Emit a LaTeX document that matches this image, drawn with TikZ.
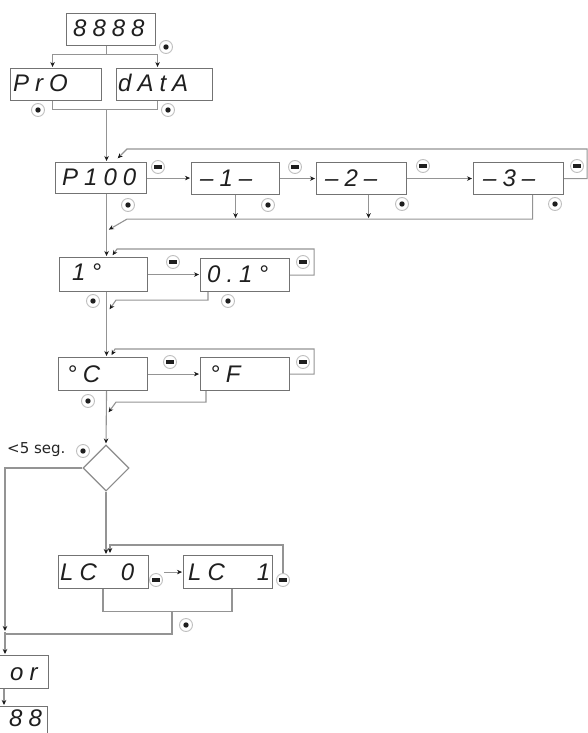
\documentclass[tikz,border=0pt]{standalone}
\usepackage{fontspec}
\usetikzlibrary{arrows.meta,calc,shapes.geometric}
\newfontfamily\segfont{Liberation Sans}[LetterSpace=25]
\newfontfamily\labfont{DejaVu Sans}
\begin{document}
\begin{tikzpicture}[x=1pt,y=-1pt,
  box/.style={draw=black!55, line width=1.1pt, anchor=north west, inner sep=0pt},
  ln/.style={draw=black!42, line width=1.1pt},
  ar/.style={ln, -{Stealth[length=5pt,width=4.5pt,color=black!90]}, shorten >=1pt},
  seg/.style={font=\segfont\itshape\fontsize{24}{24}\selectfont, anchor=base west, inner sep=0pt, text=black!88},
  lab/.style={font=\labfont\fontsize{15}{15}\selectfont, anchor=base west, inner sep=0pt, text=black!85},
  dotbtn/.style={circle, draw=black!25, fill=white, line width=0.9pt, minimum size=13pt, inner sep=0pt,
    path picture={\fill[black!88] (path picture bounding box.center) circle (2.7pt);}},
  minusbtn/.style={circle, draw=black!25, fill=white, line width=0.9pt, minimum size=13pt, inner sep=0pt,
    path picture={\fill[black!88] ([xshift=-4pt,yshift=-1.6pt]path picture bounding box.center) rectangle ([xshift=4pt,yshift=1.6pt]path picture bounding box.center);}}
]
\clip (0,0) rectangle (588,733);
\fill[white] (0,0) rectangle (588,733);

% boxes
\node[box, minimum width=89pt, minimum height=32pt] (b8888) at (66,13) {};
\node[box, minimum width=91pt, minimum height=32pt] (bpro) at (10,68) {};
\node[box, minimum width=96pt, minimum height=32pt] (bdata) at (116,68) {};
\node[box, minimum width=91pt, minimum height=31pt] (bp100) at (55,162) {};
\node[box, minimum width=88pt, minimum height=32pt] (bm1) at (191,162) {};
\node[box, minimum width=90pt, minimum height=32pt] (bm2) at (316,162) {};
\node[box, minimum width=90pt, minimum height=32pt] (bm3) at (473,162) {};
\node[box, minimum width=88pt, minimum height=34pt] (b1) at (59,257) {};
\node[box, minimum width=89pt, minimum height=33pt] (b01) at (200,258) {};
\node[box, minimum width=89pt, minimum height=33pt] (bc) at (58,357) {};
\node[box, minimum width=89pt, minimum height=33pt] (bf) at (200,357) {};
\node[box, minimum width=90pt, minimum height=33pt] (blc0) at (58,555) {};
\node[box, minimum width=89pt, minimum height=33pt] (blc1) at (183,555) {};
\node[box, minimum width=88pt, minimum height=33pt] (bor) at (-40,655) {};
\node[box, minimum width=87pt, minimum height=50pt] (b888) at (-40,706) {};
\node[diamond, draw=black!45, line width=1.1pt, minimum width=46pt, minimum height=46pt, inner sep=0pt] (dia) at (106,468) {};

% texts
\node[seg] (t8888) at (73,37) {8888};
\node[seg] (tpro) at (13,92) {PrO};
\node[seg] (tdata) at (118,92) {dAtA};
\node[seg] (tp100) at (62,185) {P100};
\node[seg] (tm1) at (200,186) {–1–};
\node[seg] (tm2) at (325,186) {–2–};
\node[seg] (tm3) at (483,186) {–3–};
\node[seg] (t1) at (72,280) {1°};
\node[seg] (t01) at (207,282) {0.1°};
\node[seg] (tc) at (67,382) {°C};
\node[seg] (tf) at (210,382) {°F};
\node[seg] (tlc0) at (60,580) {LC\hspace{24pt}0};
\node[seg] (tlc1) at (188,580) {LC\hspace{32pt}1};
\node[seg] (tor) at (10,680) {or};
\node[seg] (t888) at (9,726) {88};
\node[lab] (lseg) at (7,453) {<5 seg.};

% connectors
\draw[ln] ([xshift=-4.5pt]b8888.south) -- ++(0,8) coordinate (j1);
\draw[ar] (j1) -| ([xshift=-3.5pt]bpro.north);
\draw[ar] (j1) -| ([xshift=-7pt]bdata.north);
\draw[ln] ([xshift=-3.5pt]bpro.south) -- ++(0,8) coordinate (j2) -| ([xshift=-7pt]bdata.south);
\draw[ar] (j1 |- j2) -- (j1 |- bp100.north);

\draw[ar] (bp100.east) -- (bp100.east -| bm1.west);
\draw[ar] (bm1.east) -- (bm1.east -| bm2.west);
\draw[ar] (bm2.east) -- (bm2.east -| bm3.west);
\draw[ar] (bm3.east) -- ++(23,0) |- ($(bp100.north west)+(72,-13)$) -- ($(bp100.north west)+(62,-3)$);
\draw[ar] (bm1.south) -- ++(0,24);
\draw[ar] ([xshift=7pt]bm2.south) -- ++(0,24);
\draw[ar] ([xshift=14pt]bm3.south) -- ++(0,24) -- ($(bp100.south west)+(72,25)$) -- ($(bp100.south west)+(53,36)$);

\draw[ar] (j1 |- bp100.south) -- (j1 |- b1.north);
\draw[ar] (b1.east) -- (b1.east -| b01.west);
\draw[ar] (b01.east) -- ++(24,0) |- ($(b1.north west)+(58,-8)$) -- ($(b1.north west)+(53,-1)$);
\draw[ar] ($(b01.south west)+(8,0)$) -- ++(0,8) -- ($(b1.south west)+(57,8)$) -- ($(b1.south west)+(50,18)$);

\draw[ar] (j1 |- b1.south) -- (j1 |- bc.north);
\draw[ar] (bc.east) -- (bc.east -| bf.west);
\draw[ar] (bf.east) -- ++(24,0) |- ($(bc.north west)+(57,-8)$) -- ($(bc.north west)+(53,-1)$);
\draw[ar] ($(bf.south west)+(6,0)$) -- ++(0,11) -- ($(bc.south west)+(58,11)$) -- ($(bc.south west)+(50,22)$);

\draw[ar] (j1 |- bc.south) -- (dia.north);
\draw[ar] (dia.west) -| ($(bor.north west)+(45,-23)$) coordinate (jl);
\draw[ar] (jl) -- ($(bor.north west)+(45,0)$);
\draw[ar] (dia.south) -- (dia.south |- blc0.north);

% buttons
\node[minusbtn] (mlc0) at (156,580) {};
\node[minusbtn] (mlc1) at (283,580) {};
\draw[ar] ($(blc0.east)+(15,0)$) -- (blc0.east -| blc1.west);
\draw[ar] (mlc1.north) |- ($(blc0.north west)+(52,-10)$) -- ($(blc0.north west)+(52,-1)$);
\draw[ln] ($(blc0.south west)+(45,0)$) -- ++(0,22) coordinate (jb) -| ($(blc1.south west)+(49,0)$);
\draw[ln] ($(jb)+(69,0)$) |- ($(jl)+(0,2)$);
\draw[ar] ($(bor.south west)+(44,0)$) -- ($(b888.north west)+(44,0)$);

\node[dotbtn] (d1) at (166,47) {};
\node[dotbtn] (d2) at (38,110) {};
\node[dotbtn] (d3) at (168,110) {};
\node[dotbtn] (d4) at (128,205) {};
\node[dotbtn] (d5) at (268,205) {};
\node[dotbtn] (d6) at (402,204) {};
\node[dotbtn] (d7) at (555,204) {};
\node[dotbtn] (d8) at (93,301) {};
\node[dotbtn] (d9) at (228,301) {};
\node[dotbtn] (d10) at (88,401) {};
\node[dotbtn] (d11) at (83,451) {};
\node[dotbtn] (d12) at (186,625) {};
\node[minusbtn] (m1) at (158,167) {};
\node[minusbtn] (m2) at (295,167) {};
\node[minusbtn] (m3) at (423,166) {};
\node[minusbtn] (m4) at (577,166) {};
\node[minusbtn] (m5) at (173,262) {};
\node[minusbtn] (m6) at (303,262) {};
\node[minusbtn] (m7) at (170,362) {};
\node[minusbtn] (m8) at (303,362) {};
\end{tikzpicture}
\end{document}
